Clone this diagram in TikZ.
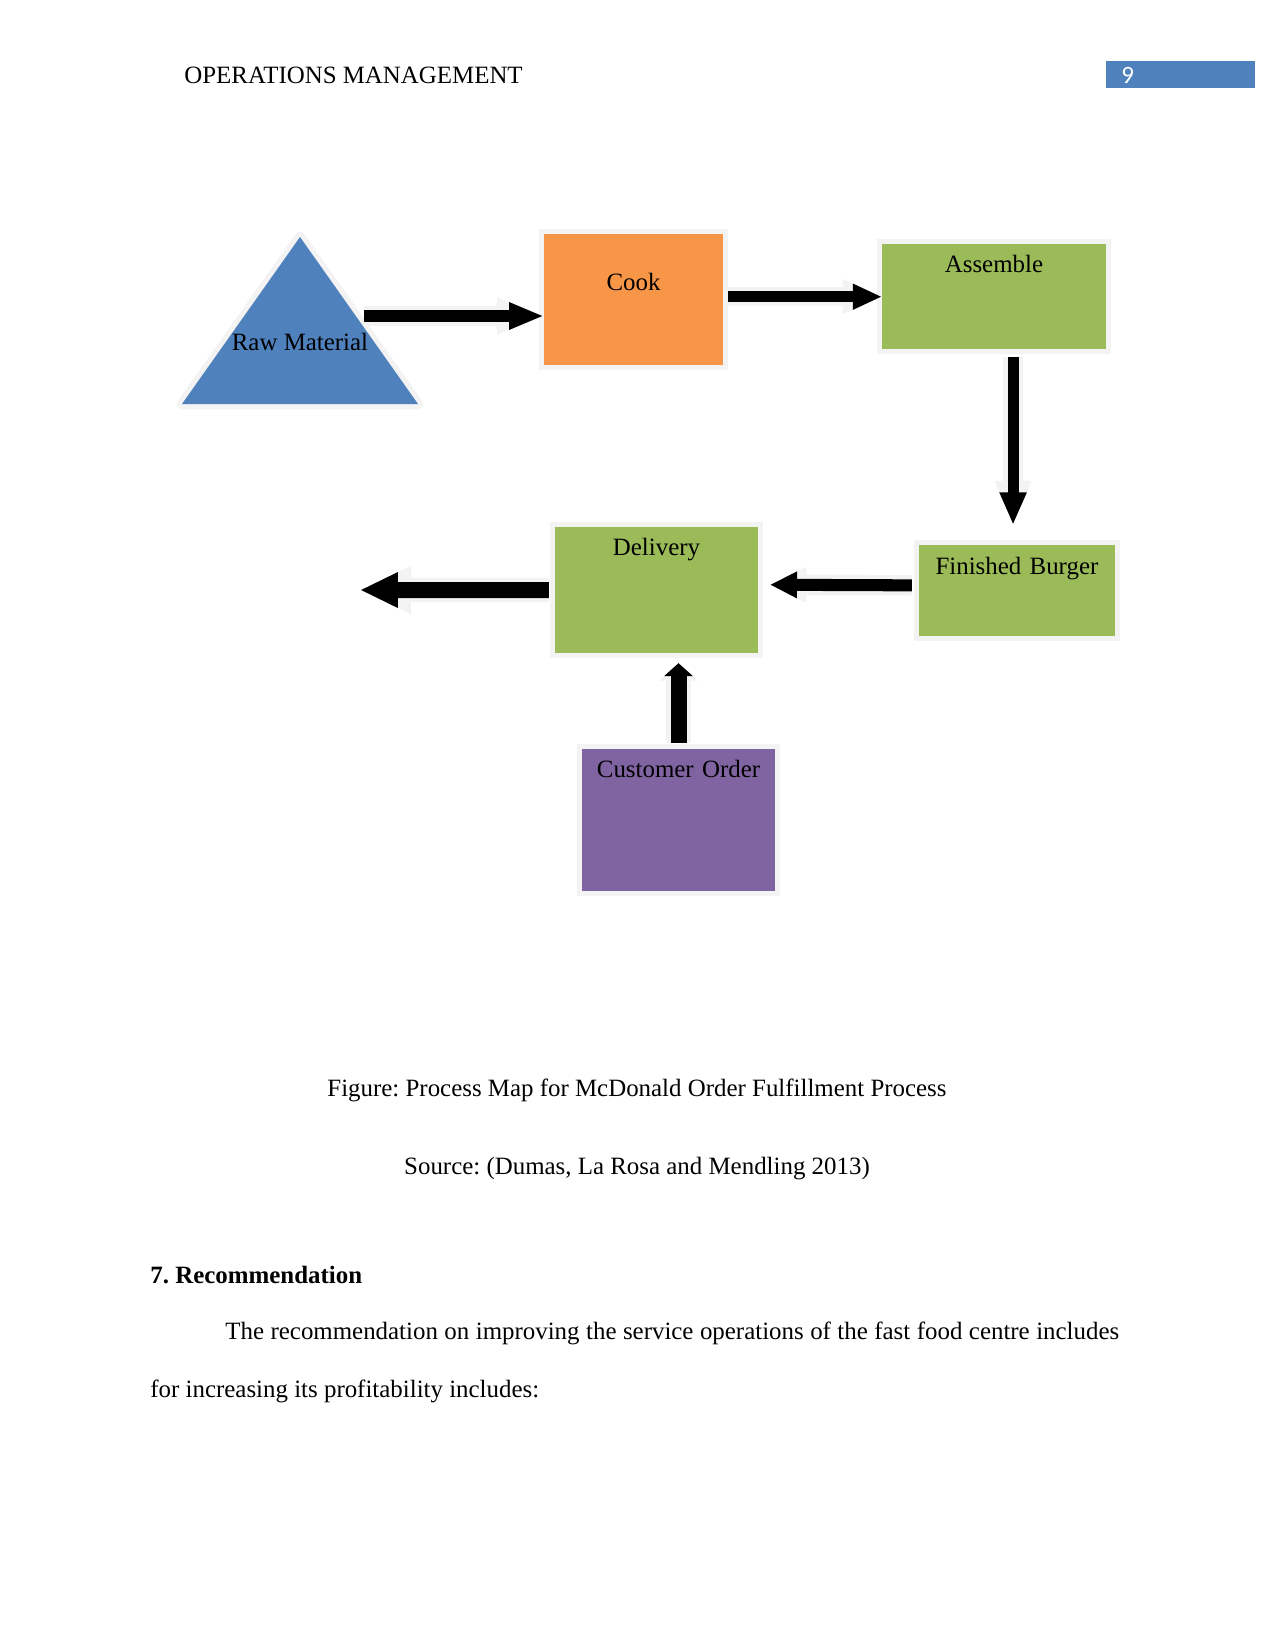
\documentclass[tikz,border=0pt]{standalone}
\usepackage{fontspec}
\setmainfont{Liberation Serif}
\newfontfamily\numfont{Carlito}
\usetikzlibrary{arrows.meta,positioning,calc}
\definecolor{rmblue}{HTML}{4F81BD}
\definecolor{cookorange}{HTML}{F79646}
\definecolor{stepgreen}{HTML}{9BBB59}
\definecolor{orderpurple}{HTML}{8064A2}
\definecolor{glow}{HTML}{F3F3F3}
\frenchspacing

\begin{document}
\begin{tikzpicture}[x=0.16933mm,y=-0.16933mm,
  every node/.style={font=\fontsize{12}{14.4}\selectfont,inner sep=0pt},
  box/.style={anchor=north west,inner sep=0pt,align=center,preaction={draw=glow,line width=5pt}},
  flow/.style n args={3}{line width=#1,-{Triangle[width=#2,length=#3]},
    preaction={draw=glow,line width=#1+4pt,-{Triangle[width=#2,length=#3,scale=1.35]}}}]
 \useasboundingbox (0,0) rectangle (1275,1650);
 % running head
 \node[anchor=base west] (runhead) at (184,83) {OPERATIONS MANAGEMENT};
 \node[anchor=north west,fill=rmblue,text=white,font=\numfont\fontsize{12}{14.4}\selectfont,
   inner xsep=7.2pt,inner ysep=0pt,text width=57pt,text height=10.6pt,text depth=2.4pt] (pagebox) at (1106,61) {9};
 % process map
 \coordinate (apex) at (300,237);
 \coordinate (baseR) at (418,404);
 \coordinate (baseL) at (182,404);
 \fill[rmblue,preaction={draw=glow,line width=5pt,line join=round}] (apex) -- (baseR) -- (baseL) -- cycle;
 \node[anchor=base] (rawmat) at (300,350) {Raw Material};
 \coordinate (rawout) at (364,316);
 \node[box,fill=cookorange,text width=85.9pt,text height=26.9pt,text depth=36pt] (cook) at (544,234) {Cook};
 \node[box,fill=stepgreen,text width=107.5pt,text height=13.4pt,text depth=37pt] (assemble) at (882,244) {Assemble};
 \node[box,fill=stepgreen,text width=94pt,text height=13.9pt,text depth=29.8pt] (finished) at (919,545) {Finished Burger};
 \node[box,fill=stepgreen,text width=97.4pt,text height=13.4pt,text depth=47pt] (delivery) at (555,527) {Delivery};
 \node[box,fill=orderpurple,text width=92.6pt,text height=13.4pt,text depth=54.7pt] (custorder) at (582,749) {Customer Order};
 \coordinate (outpt) at (360,590);
 \draw[flow={5.8pt}{12pt}{16.8pt}] (rawout) -- (rawout -| cook.west);
 \draw[flow={5.3pt}{11.5pt}{14pt},shorten <=2.4pt] (cook.east |- assemble.west) -- (assemble.west);
 \draw[flow={5.3pt}{12pt}{15.8pt},shorten <=3.4pt,shorten >=9.6pt] ([xshift=9.2pt]assemble.south) -- ([xshift=9.2pt]assemble.south |- finished.north);
 \draw[flow={5.8pt}{12pt}{13pt},shorten <=3.4pt,shorten >=5.8pt] ([yshift=2.6pt]finished.west) -- ([yshift=2.6pt]delivery.east);
 \draw[flow={7.7pt}{15.8pt}{18.2pt},shorten <=2.9pt] (delivery.west) -- (outpt);
 \draw[flow={7.7pt}{13.4pt}{6.2pt},shorten <=2.9pt,shorten >=4.8pt] (custorder.north) -- (custorder.north |- delivery.south);
 % caption and text
 \node[anchor=base] (caption) at (637,1096) {Figure: Process Map for McDonald Order Fulfillment Process};
 \node[anchor=base] (source) at (637,1174) {Source: (Dumas, La Rosa and Mendling 2013)};
 \node[anchor=base west,font=\bfseries\fontsize{12}{14.4}\selectfont] (sechead) at (150,1283) {7. Recommendation};
 \node[anchor=base west] (para1) at (225,1339) {\makebox[430.6pt][s]{The recommendation on improving the service operations of the fast food centre includes}};
 \node[anchor=base west] (para2) at (150,1397) {for increasing its profitability includes:};
\end{tikzpicture}
\end{document}
